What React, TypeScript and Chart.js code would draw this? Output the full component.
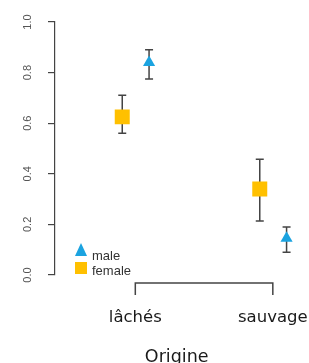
import React, { useEffect, useRef } from "react";
import { Chart, registerables } from "chart.js";

Chart.register(...registerables);

const categories = ["lâchés", "sauvage"];
const seriesNames = ["male", "female"];
const maleMean = [0.84, 0.145];
const maleLow = [0.775, 0.09];
const maleHigh = [0.89, 0.19];
const femaleMean = [0.625, 0.34];
const femaleLow = [0.56, 0.213];
const femaleHigh = [0.71, 0.458];
const yTicks = [0, 0.2, 0.4, 0.6, 0.8, 1.0];
const xTitle = "Origine";

const BLUE = "#1BA3E0";
const ORANGE = "#FFC000";
const AXIS = "#444";
const MALE_DODGE = 0.1;
const FEMALE_DODGE = -0.095;

export default function App() {
  const ref = useRef<HTMLCanvasElement>(null);
  useEffect(() => {
    if (!ref.current) return;
    const errPlugin = {
      id: "rstyle",
      beforeDatasetsDraw(chart: any) {
        const ctx = chart.ctx;
        const xs = chart.scales.x;
        const ys = chart.scales.y;
        ctx.save();
        ctx.strokeStyle = AXIS;
        ctx.lineWidth = 1.5;
        const draw = (xv: number, lo: number, hi: number) => {
          const px = xs.getPixelForValue(xv);
          const p1 = ys.getPixelForValue(lo);
          const p2 = ys.getPixelForValue(hi);
          ctx.beginPath();
          ctx.moveTo(px, p1);
          ctx.lineTo(px, p2);
          ctx.moveTo(px - 4, p1);
          ctx.lineTo(px + 4, p1);
          ctx.moveTo(px - 4, p2);
          ctx.lineTo(px + 4, p2);
          ctx.stroke();
        };
        categories.forEach((_, i) => {
          draw(i + 1 + MALE_DODGE, maleLow[i], maleHigh[i]);
          draw(i + 1 + FEMALE_DODGE, femaleLow[i], femaleHigh[i]);
        });
        ctx.restore();
      },
      afterDraw(chart: any) {
        const ctx = chart.ctx;
        const xs = chart.scales.x;
        const ys = chart.scales.y;
        ctx.save();
        // bracket axis
        const x1 = xs.getPixelForValue(1);
        const x2 = xs.getPixelForValue(categories.length);
        const by = ys.getPixelForValue(0) + 8;
        ctx.strokeStyle = AXIS;
        ctx.lineWidth = 1.5;
        ctx.beginPath();
        ctx.moveTo(x1, by + 12);
        ctx.lineTo(x1, by);
        ctx.lineTo(x2, by);
        ctx.lineTo(x2, by + 12);
        ctx.stroke();
        // legend
        const lx = 81;
        ctx.fillStyle = BLUE;
        ctx.beginPath();
        ctx.moveTo(lx, 243);
        ctx.lineTo(lx + 6, 256);
        ctx.lineTo(lx - 6, 256);
        ctx.closePath();
        ctx.fill();
        ctx.fillStyle = ORANGE;
        ctx.fillRect(lx - 6, 262, 12, 12);
        ctx.fillStyle = "#333";
        ctx.font = "13px 'Liberation Sans', Arial, sans-serif";
        ctx.textBaseline = "middle";
        ctx.textAlign = "left";
        ctx.fillText(seriesNames[0], 92, 256);
        ctx.fillText(seriesNames[1], 92, 271);
        ctx.restore();
      },
    };

    const chart = new Chart(ref.current, {
      type: "scatter",
      data: {
        datasets: [
          {
            label: seriesNames[1],
            data: categories.map((_, i) => ({ x: i + 1 + FEMALE_DODGE, y: femaleMean[i] })),
            pointStyle: "rect",
            pointRadius: 10.6,
            backgroundColor: ORANGE,
            borderColor: ORANGE,
            borderWidth: 0,
          },
          {
            label: seriesNames[0],
            data: categories.map((_, i) => ({ x: i + 1 + MALE_DODGE, y: maleMean[i] })),
            pointStyle: "triangle",
            pointRadius: 7,
            backgroundColor: BLUE,
            borderColor: BLUE,
            borderWidth: 0,
          },
        ],
      },
      plugins: [errPlugin],
      options: {
        animation: false,
        responsive: false,
        layout: { padding: { left: 0, top: 22, right: 8, bottom: 0 } },
        plugins: { legend: { display: false }, tooltip: { enabled: false } },
        scales: {
          x: {
            type: "linear",
            min: 0.416,
            max: 2.186,
            afterBuildTicks: (s: any) => {
              s.ticks = categories.map((_, i) => ({ value: i + 1 }));
            },
            afterFit: (s: any) => {
              s.height = 88;
              s.paddingLeft = 0;
              s.paddingRight = 0;
            },
            grid: { display: false, drawTicks: false },
            border: { display: false },
            ticks: {
              padding: 33,
              autoSkip: false,
              maxRotation: 0,
              color: "#1a1a1a",
              font: { family: "'DejaVu Sans', sans-serif", size: 16.5 },
              callback: (v: any) => categories[Math.round(Number(v)) - 1] ?? "",
            },
            title: {
              display: true,
              text: xTitle,
              color: "#1a1a1a",
              font: { family: "'DejaVu Sans', sans-serif", size: 17.5, lineHeight: 1 },
              padding: { top: 14, bottom: -3 },
            },
          },
          y: {
            min: 0,
            max: 1,
            afterBuildTicks: (s: any) => {
              s.ticks = yTicks.map((v) => ({ value: v }));
            },
            afterFit: (s: any) => {
              s.width = 55;
            },
            grid: {
              display: true,
              drawOnChartArea: false,
              drawTicks: true,
              tickLength: 7,
              color: AXIS,
              tickColor: AXIS,
              lineWidth: 1.2,
            },
            border: { display: true, color: AXIS, width: 1.2 },
            ticks: {
              minRotation: 90,
              maxRotation: 90,
              crossAlign: "center",
              padding: 12,
              color: "#555",
              font: { family: "'Liberation Sans', Arial, sans-serif", size: 11 },
              callback: (v: any) => Number(v).toFixed(1),
            },
          },
        },
      },
    });
    return () => chart.destroy();
  }, []);
  return (
    <div style={{ position: "fixed", left: 0, top: 0, width: 309, height: 363, background: "#fff" }}>
      <canvas ref={ref} width={309} height={363} />
    </div>
  );
}
